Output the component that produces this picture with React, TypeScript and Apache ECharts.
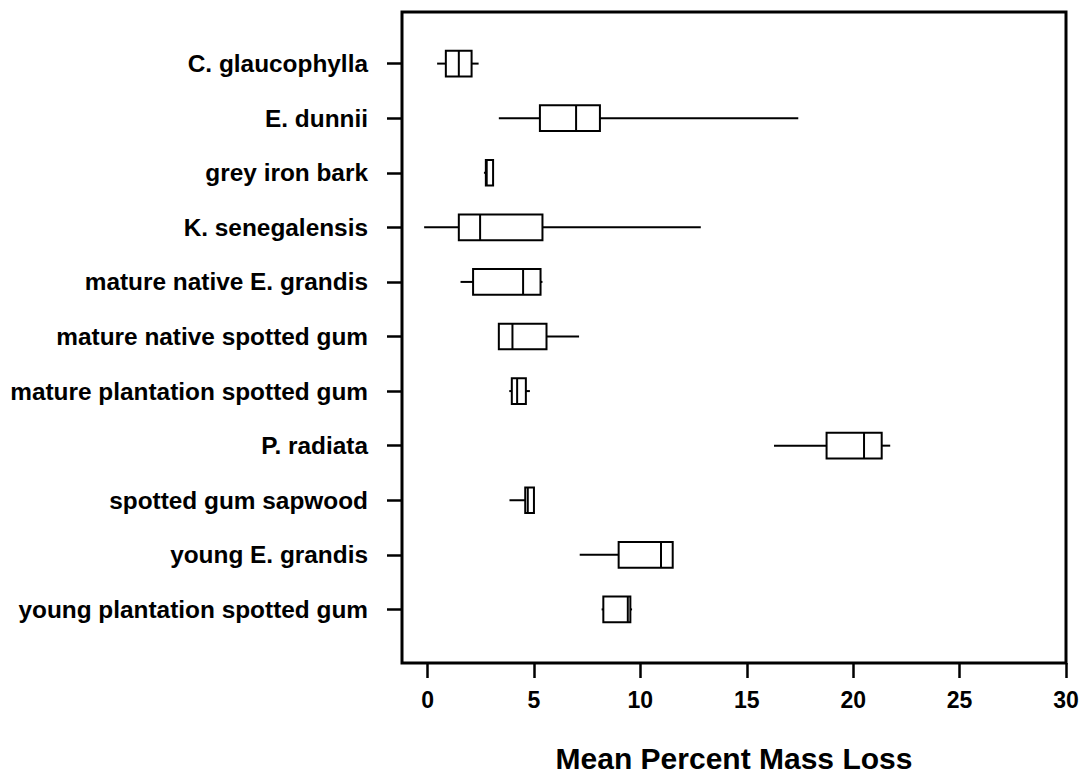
import React, { useEffect, useRef } from "react";
import * as echarts from "echarts";

const categories = [
  "C. glaucophylla",
  "E. dunnii",
  "grey iron bark",
  "K. senegalensis",
  "mature native E. grandis",
  "mature native spotted gum",
  "mature plantation spotted gum",
  "P. radiata",
  "spotted gum sapwood",
  "young E. grandis",
  "young plantation spotted gum",
];
const whiskerLow = [0.45, 3.35, 2.65, -0.16, 1.55, 3.35, 3.84, 16.28, 3.85, 7.15, 8.18];
const q1 = [0.86, 5.28, 2.74, 1.47, 2.14, 3.35, 3.96, 18.75, 4.59, 8.98, 8.26];
const median = [1.47, 6.98, 2.78, 2.47, 4.49, 3.99, 4.21, 20.51, 4.71, 10.97, 9.41];
const q3 = [2.07, 8.1, 3.08, 5.4, 5.31, 5.59, 4.62, 21.34, 5.0, 11.52, 9.53];
const whiskerHigh = [2.4, 17.42, 3.08, 12.84, 5.4, 7.12, 4.81, 21.74, 5.0, 11.52, 9.61];
const xTicks = [0, 5, 10, 15, 20, 25, 30];
const xTitle = "Mean Percent Mass Loss";

const FONT = "'Liberation Sans', Arial, Helvetica, sans-serif";

export default function App() {
  const ref = useRef<HTMLDivElement>(null);
  useEffect(() => {
    if (!ref.current) return;
    const chart = echarts.init(ref.current, null, { renderer: "svg" });
    const positions = categories.map((_, i) => i + 1);
    const data = categories.map((_, i) => [
      i + 1,
      whiskerLow[i],
      q1[i],
      median[i],
      q3[i],
      whiskerHigh[i],
    ]);
    const stroke = { stroke: "#000", lineWidth: 2 };
    chart.setOption({
      animation: false,
      backgroundColor: "#fff",
      grid: {
        left: 402,
        right: 18,
        top: 12,
        bottom: 110,
        show: true,
        borderColor: "#000",
        borderWidth: 3,
        backgroundColor: "transparent",
      },
      xAxis: {
        type: "value",
        min: -1.2,
        max: 30,
        splitLine: { show: false },
        axisLine: { show: false, onZero: false },
        axisTick: {
          show: true,
          length: 15,
          customValues: xTicks,
          lineStyle: { color: "#000", width: 2.5 },
        },
        axisLabel: {
          customValues: xTicks,
          margin: 25,
          color: "#000",
          fontFamily: FONT,
          fontWeight: "bold",
          fontSize: 23,
        },
        name: xTitle,
        nameLocation: "middle",
        nameGap: 80,
        nameTextStyle: {
          color: "#000",
          fontFamily: FONT,
          fontWeight: "bold",
          fontSize: 30,
        },
      },
      yAxis: {
        type: "value",
        inverse: true,
        min: 0.0545,
        max: 11.982,
        splitLine: { show: false },
        axisLine: { show: false, onZero: false },
        axisTick: {
          show: true,
          length: 15,
          customValues: positions,
          lineStyle: { color: "#000", width: 2.5 },
        },
        axisLabel: {
          customValues: positions,
          margin: 34,
          color: "#000",
          fontFamily: FONT,
          fontWeight: "bold",
          fontSize: 24.4,
          formatter: (v: number) => categories[Math.round(v) - 1] ?? "",
        },
      },
      series: [
        {
          type: "custom",
          data,
          encode: { x: [1, 2, 3, 4, 5], y: 0 },
          renderItem: (params: any, api: any) => {
            const y = api.value(0);
            const pLow = api.coord([api.value(1), y]);
            const pQ1 = api.coord([api.value(2), y]);
            const pMed = api.coord([api.value(3), y]);
            const pQ3 = api.coord([api.value(4), y]);
            const pHigh = api.coord([api.value(5), y]);
            const h = api.size([0, 1])[1] * 0.47;
            const cy = pQ1[1];
            return {
              type: "group",
              children: [
                {
                  type: "line",
                  shape: { x1: pLow[0], y1: cy, x2: pQ1[0], y2: cy },
                  style: stroke,
                },
                {
                  type: "line",
                  shape: { x1: pQ3[0], y1: cy, x2: pHigh[0], y2: cy },
                  style: stroke,
                },
                {
                  type: "rect",
                  shape: { x: pQ1[0], y: cy - h / 2, width: pQ3[0] - pQ1[0], height: h },
                  style: { fill: "#fff", stroke: "#000", lineWidth: 2 },
                },
                {
                  type: "line",
                  shape: { x1: pMed[0], y1: cy - h / 2, x2: pMed[0], y2: cy + h / 2 },
                  style: stroke,
                },
              ],
            };
          },
        },
      ],
    });
    return () => chart.dispose();
  }, []);
  return (
    <div
      ref={ref}
      style={{ position: "fixed", left: 0, top: 0, width: 1084, height: 778, background: "#fff" }}
    />
  );
}
